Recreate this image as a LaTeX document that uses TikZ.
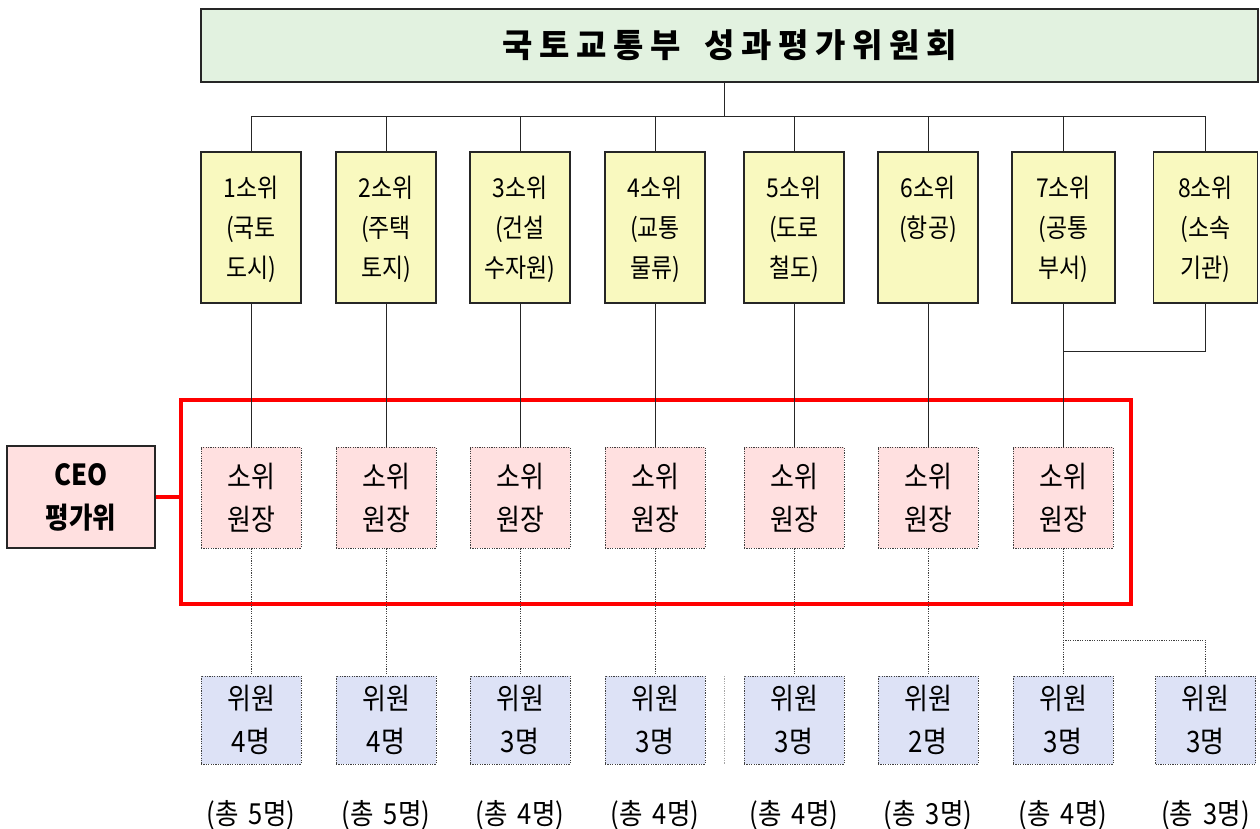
\documentclass[tikz,border=0pt]{standalone}
\usepackage{fontspec}
\setmainfont{Noto Sans CJK KR}[FakeStretch=0.88]
\newfontfamily\titlefont{Noto Sans CJK KR}[LetterSpace=20]
\begin{document}
\begin{tikzpicture}[x=1pt,y=-1pt,
  box/.style={draw=black!85, line width=1.2pt, minimum width=100pt, inner sep=0pt},
  ybox/.style={box, fill=yfill, minimum height=151pt},
  pbox/.style={draw=black!75, line width=0.9pt, dash pattern=on 1.2pt off 1.2pt, fill=pfill, minimum width=100pt, minimum height=101pt, inner sep=0pt},
  bbox/.style={draw=black!75, line width=0.9pt, dash pattern=on 1.2pt off 1.2pt, fill=bfill, minimum width=100pt, minimum height=88pt, inner sep=0pt},
  txt/.style={align=center, inner sep=0pt, font=\fontsize{26}{40}\selectfont},
  ptxt/.style={align=center, inner sep=0pt, font=\fontsize{29.5}{43}\selectfont},
  conn/.style={draw=black!85, line width=0.9pt},
  dconn/.style={draw=black!75, line width=0.9pt, dash pattern=on 1.2pt off 1.2pt},
]
\definecolor{tfill}{HTML}{E2F2E0}
\definecolor{yfill}{HTML}{F9F9BF}
\definecolor{pfill}{HTML}{FFE0E0}
\definecolor{bfill}{HTML}{DDE2F6}
\useasboundingbox (0,0) rectangle (1260,829);

% title
\node[box, fill=tfill, minimum width=1057pt, minimum height=73pt] (top) at (729.5,45.5) {};
\node[inner sep=0pt, font=\titlefont\fontsize{33}{36}\selectfont\bfseries] (toptxt) at (729.5,45) {국토교통부\hspace{0.3em} 성과평가위원회};

% columns
\foreach \i/\cx/\w in {1/251/100,2/386/100,3/520/100,4/655/100,5/794/100,6/928/100,7/1063.5/103,8/1205.5/104}{
  \node[ybox, minimum width=\w pt] (y\i) at (\cx,227.5) {};
}
\node[txt, anchor=north] (yt1) at (251,176) {1소위\\(국토\\도시)};
\node[txt, anchor=north] (yt2) at (386,176) {2소위\\(주택\\토지)};
\node[txt, anchor=north] (yt3) at (520,176) {3소위\\(건설\\수자원)};
\node[txt, anchor=north] (yt4) at (655,176) {4소위\\(교통\\물류)};
\node[txt, anchor=north] (yt5) at (794,176) {5소위\\(도로\\철도)};
\node[txt, anchor=north] (yt6) at (928,176) {6소위\\(항공)};
\node[txt, anchor=north] (yt7) at (1063.5,176) {7소위\\(공통\\부서)};
\node[txt, anchor=north] (yt8) at (1205.5,176) {8소위\\(소속\\기관)};

% pink and blue boxes
\foreach \i/\cx in {1/251,2/386,3/520,4/655,5/794,6/928,7/1063}{
  \node[pbox] (p\i) at (\cx,497.5) {};
  \node[ptxt] (pt\i) at (\cx,498) {소위\\원장};
}
\foreach \i/\cx/\n/\t in {1/251/4/5,2/386/4/5,3/520/3/4,4/655/3/4,5/794/3/4,6/928/2/3,7/1063/3/4,8/1205.5/3/3}{
  \node[bbox] (b\i) at (\cx,720) {};
  \node[ptxt] (bt\i) at (\cx,720) {위원\\\n 명};
  \node[inner sep=0pt, font=\fontsize{29}{30}\selectfont] (tot\i) at (\cx,815) {(총\hspace{0.35em}\t 명)};
}

% CEO
\node[draw=black!85, line width=1.2pt, fill=pfill, minimum width=148pt, minimum height=102pt, inner sep=0pt] (ceo) at (81,497) {};
\node[align=center, inner sep=0pt, font=\fontsize{29}{43}\selectfont\bfseries] (ceotxt) at (81,497) {CEO\\평가위};

% red frame
\node[draw=red, line width=4.5pt, minimum width=950pt, minimum height=204pt, inner sep=0pt] (redbox) at (656,502) {};
\draw[red, line width=4.5pt] (ceo.east) -- (redbox.west |- ceo.east);

% connectors top
\coordinate (bus) at (724,116);
\coordinate (j78) at (1063,351);
\coordinate (j7b) at (1063,640);
\draw[conn] (top.south -| bus) -- (bus);
\draw[conn] (y1.north) -- (y1.north |- bus) -- (y8.north |- bus) -- (y8.north);
\foreach \i in {2,...,7}{ \draw[conn] (y\i.north) -- (y\i.north |- bus); }
\foreach \i in {1,...,6}{ \draw[conn] (y\i.south) -- (p\i.north); }
\draw[conn] (y7.south -| p7.north) -- (p7.north);
\draw[conn] (y8.south) |- (j78);
\foreach \i in {1,...,7}{ \draw[dconn] (p\i.south) -- (b\i.north); }
\draw[dconn] (j7b) -| (b8.north);

% gray dotted separator
\coordinate (sepA) at (724,676);
\coordinate (sepB) at (724,764);
\draw[draw=black!35, line width=0.9pt, dash pattern=on 1.2pt off 1.2pt] (sepA) -- (sepB);
\end{tikzpicture}
\end{document}
